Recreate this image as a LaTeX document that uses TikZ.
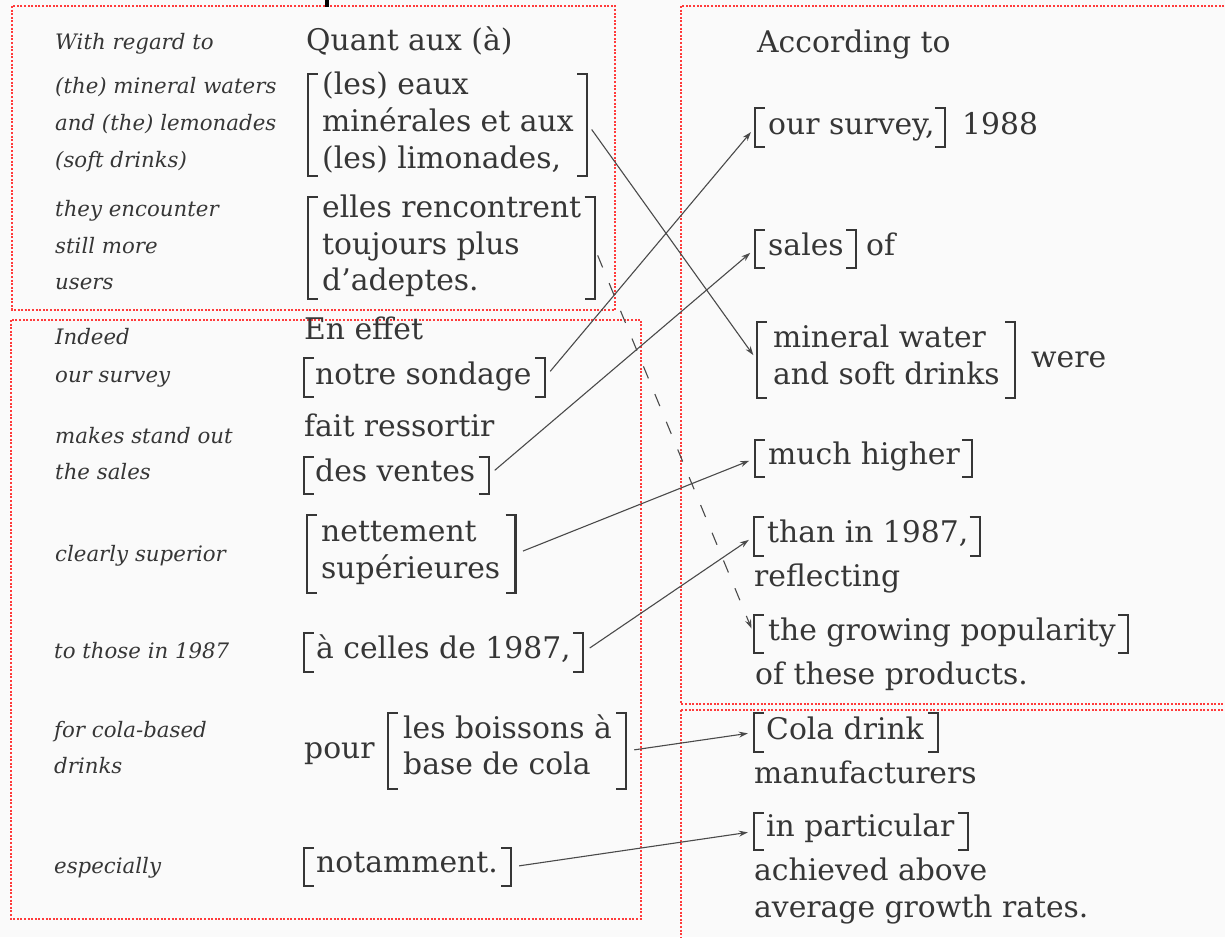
\documentclass[tikz,border=0pt]{standalone}
\usepackage{fontspec}
\setmainfont{DejaVu Serif}
\usetikzlibrary{arrows.meta,fit}
\definecolor{ink}{HTML}{363636}
\definecolor{lnk}{HTML}{4A4A4A}
\definecolor{boxred}{HTML}{FF3B3B}
\definecolor{paper}{HTML}{FAFAFA}
\newcommand\brk[1]{%
  \draw[brkline] ([xshift=10]#1.north west) -- (#1.north west) -- (#1.south west) -- ([xshift=10]#1.south west);
  \draw[brkline] ([xshift=-10]#1.north east) -- (#1.north east) -- (#1.south east) -- ([xshift=-10]#1.south east);}
\tikzset{
  fr/.style={anchor=base west, inner sep=0pt, text=ink, font=\fontsize{29.8}{37}\selectfont},
  gl/.style={anchor=base west, inner sep=0pt, text=ink, font=\fontsize{21.3}{37}\selectfont\itshape},
  brkfit/.style={draw=none, inner sep=0pt},
  brkline/.style={draw=ink, line width=2.2pt},
  conn/.style={draw=lnk, line width=1.1pt, -{Stealth[length=9pt,width=6pt]}, shorten <=8pt, shorten >=6pt},
  redbox/.style={draw=boxred, line width=1.2pt, dash pattern=on 2pt off 1.6pt},
}
\begin{document}
\begin{tikzpicture}[x=1pt,y=-1pt]
\useasboundingbox (0,0) rectangle (1225,937);
\fill[paper] (0,0) rectangle (1225,937);
% annotation boxes
\draw[redbox] (12,6) rectangle (615,310);
\draw[redbox] (11,320) rectangle (641,919);
\draw[redbox] (681,6) rectangle (1232,704);
\draw[redbox] (681,710) rectangle (1232,945);
\fill[black] (325,0) rectangle (329,7);
% English glosses
\node[gl] (g1) at (55,49) {With regard to};
\node[gl] (g2) at (55,93) {(the) mineral waters};
\node[gl] (g3) at (55,130) {and (the) lemonades};
\node[gl] (g4) at (55,167) {(soft drinks)};
\node[gl] (g5) at (55,216) {they encounter};
\node[gl] (g6) at (55,253) {still more};
\node[gl] (g7) at (55,289) {users};
\node[gl] (g8) at (55,344) {Indeed};
\node[gl] (g9) at (55,382) {our survey};
\node[gl] (g10) at (55,443) {makes stand out};
\node[gl] (g11) at (55,479) {the sales};
\node[gl] (g12) at (55,561) {clearly superior};
\node[gl] (g13) at (54,658) {to those in 1987};
\node[gl] (g14) at (54,737) {for cola-based};
\node[gl] (g15) at (54,773) {drinks};
\node[gl] (g16) at (54,873) {especially};
% French text
\node[fr] (f1) at (306,50) {Quant aux (à)};
\node[fr] (f2) at (322,94) {(les) eaux};
\node[fr] (f3) at (322,131) {minérales et aux};
\node[fr] (f4) at (322,168) {(les) limonades,};
\node[fr] (f5) at (322,217) {elles rencontrent};
\node[fr] (f6) at (322,254) {toujours plus};
\node[fr] (f7) at (322,290) {d’adeptes.};
\node[fr] (f8) at (304,339) {En effet};
\node[fr] (f9) at (315,384) {notre sondage};
\node[fr] (f10) at (304,436) {fait ressortir};
\node[fr] (f11) at (315,481) {des ventes};
\node[fr] (f12) at (321,541) {nettement};
\node[fr] (f13) at (321,578) {supérieures};
\node[fr] (f14) at (316,658) {à celles de 1987,};
\node[fr] (f15) at (304,758) {pour};
\node[fr] (f16) at (403,738) {les boissons à};
\node[fr] (f17) at (403,774) {base de cola};
\node[fr] (f18) at (316,872) {notamment.};
% English translation
\node[fr] (e1) at (757,52) {According to};
\node[fr] (e2) at (768,134) {our survey,};
\node[fr] (e3) at (962,134) {1988};
\node[fr] (e4) at (768,255) {sales};
\node[fr] (e5) at (866,255) {of};
\node[fr] (e6) at (773,347) {mineral water};
\node[fr] (e7) at (773,384) {and soft drinks};
\node[fr] (e8) at (1031,367) {were};
\node[fr] (e9) at (768,464) {much higher};
\node[fr] (e10) at (767,542) {than in 1987,};
\node[fr] (e11) at (754,586) {reflecting};
\node[fr] (e12) at (768,640) {the growing popularity};
\node[fr] (e13) at (755,684) {of these products.};
\node[fr] (e14) at (766,739) {Cola drink};
\node[fr] (e15) at (754,783) {manufacturers};
\node[fr] (e16) at (766,836) {in particular};
\node[fr] (e17) at (754,880) {achieved above};
\node[fr] (e18) at (754,917) {average growth rates.};
% bracket frames: left edge, top and bottom fixed, right edge 13 past the widest line
\node[brkfit, fit={(308,74) ([xshift=13]f3.east |- 0,176)}] (B1) {};
\node[brkfit, fit={(308,197) ([xshift=13]f5.east |- 0,299)}] (B2) {};
\node[brkfit, fit={(304,358) ([xshift=13]f9.east |- 0,397)}] (B3) {};
\node[brkfit, fit={(304,457) ([xshift=13]f11.east |- 0,494)}] (B4) {};
\node[brkfit, fit={(307,515) ([xshift=15]f13.east |- 0,593)}] (B5) {};
\node[brkfit, fit={(304,633) ([xshift=12]f14.east |- 0,672)}] (B6) {};
\node[brkfit, fit={(388,713) ([xshift=14]f16.east |- 0,789)}] (B7) {};
\node[brkfit, fit={(304,848) ([xshift=13]f18.east |- 0,886)}] (B8) {};
\node[brkfit, fit={(755,108) ([xshift=10]e2.east |- 0,147)}] (R1) {};
\node[brkfit, fit={(755,230) ([xshift=12]e4.east |- 0,268)}] (R2) {};
\node[brkfit, fit={(757,322) ([xshift=15]e7.east |- 0,398)}] (R3) {};
\node[brkfit, fit={(755,440) ([xshift=12]e9.east |- 0,477)}] (R4) {};
\node[brkfit, fit={(754,517) ([xshift=11]e10.east |- 0,556)}] (R5) {};
\node[brkfit, fit={(754,615) ([xshift=12]e12.east |- 0,653)}] (R6) {};
\node[brkfit, fit={(754,713) ([xshift=14]e14.east |- 0,752)}] (R7) {};
\node[brkfit, fit={(754,813) ([xshift=13]e16.east |- 0,850)}] (R8) {};
\brk{B1}\brk{B2}\brk{B3}\brk{B4}\brk{B5}\brk{B6}\brk{B7}\brk{B8}
\brk{R1}\brk{R2}\brk{R3}\brk{R4}\brk{R5}\brk{R6}\brk{R7}\brk{R8}
% connectors
\draw[conn] ([yshift=2]B1.east) -- (R3.west);
\draw[conn, dash pattern=on 13pt off 17pt] (B2.east) -- (R6.west);
\draw[conn] (B3.east) -- (R1.west);
\draw[conn] (B4.east) -- (R2.west);
\draw[conn] (B5.east) -- (R4.west);
\draw[conn] (B6.east) -- (R5.west);
\draw[conn] (B7.east) -- (R7.west);
\draw[conn] (B8.east) -- (R8.west);
\end{tikzpicture}
\end{document}
